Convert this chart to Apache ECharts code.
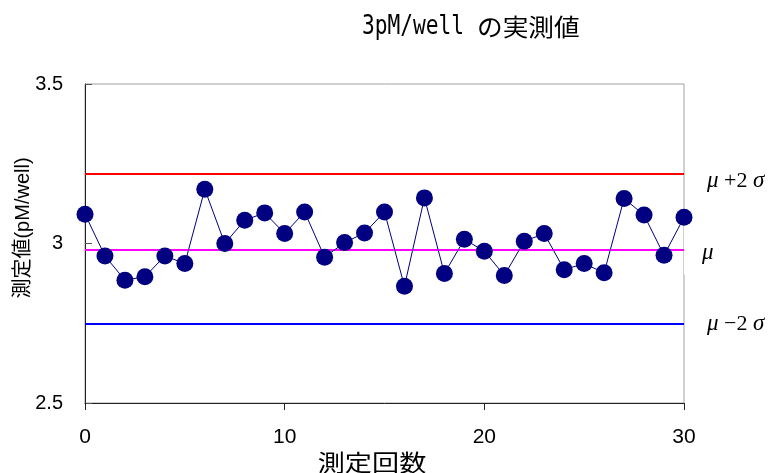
<!DOCTYPE html>
<html>
<head>
<meta charset="utf-8">
<script src="https://cdn.jsdelivr.net/npm/echarts@6/dist/echarts.min.js"></script>
<style>html,body{margin:0;padding:0;background:#fff}#c{width:772px;height:473px}</style>
</head>
<body>
<div id="c"></div>
<script>
// Data
var runs = [0,1,2,3,4,5,6,7,8,9,10,11,12,13,14,15,16,17,18,19,20,21,22,23,24,25,26,27,28,29,30];
var measured = [3.092,2.961,2.885,2.896,2.961,2.937,3.170,3.000,3.073,3.096,3.031,3.099,2.957,3.003,3.033,3.099,
  2.866,3.143,2.906,3.013,2.976,2.900,3.007,3.031,2.918,2.937,2.908,3.141,3.089,2.963,3.082];
var meanValue = [2.985];
var upperLimit = [3.217];
var lowerLimit = [2.753];
var xTicks = [0, 10, 20, 30];
var yTicks = [2.5, 3, 3.5];
var titleParts = ['3pM/well', 'の実測値'];

var chart = echarts.init(document.getElementById('c'), null, {renderer: 'canvas'});
var pts = runs.map(function (r, i) { return [r, measured[i]]; });

var greek = {fontFamily: 'Liberation Serif', fontStyle: 'italic', fontSize: 23, color: '#000'};
var plain = {fontFamily: 'Liberation Serif', fontSize: 22, color: '#000'};

chart.setOption({
  animation: false,
  backgroundColor: '#fff',
  grid: {left: 85, right: 88, top: 84, bottom: 70, show: true, borderColor: '#a0a0a0', borderWidth: 1,
    backgroundColor: 'transparent', containLabel: false, outerBoundsMode: 'none'},
  xAxis: {
    type: 'value', min: xTicks[0], max: xTicks[xTicks.length - 1], interval: 10,
    axisLine: {lineStyle: {color: '#222', width: 1}},
    axisTick: {show: true, inside: false, length: 7, lineStyle: {color: '#222'}},
    axisLabel: {fontFamily: 'Liberation Sans', fontSize: 21, color: '#000', margin: 24},
    splitLine: {show: false}
  },
  yAxis: {
    type: 'value', min: yTicks[0], max: yTicks[yTicks.length - 1], interval: 0.5,
    axisLine: {show: true, lineStyle: {color: '#222', width: 1}},
    axisTick: {show: true, inside: true, length: 7, lineStyle: {color: '#555'}},
    axisLabel: {fontFamily: 'Liberation Sans', fontSize: 20, color: '#000', margin: 22},
    splitLine: {show: false}
  },
  graphic: [{
    type: 'text', x: 362, y: 27, scaleX: 0.815,
    style: {text: titleParts[0], font: '26px "DejaVu Sans Mono"', fill: '#000', align: 'left', verticalAlign: 'middle'}
  }, {
    type: 'text', x: 477, y: 27, scaleX: 1.07,
    style: {text: titleParts[1], font: '24px "Noto Sans CJK JP"', fill: '#000', align: 'left', verticalAlign: 'middle'}
  }, {
    type: 'text', x: 372, y: 462, scaleX: 1.18,
    style: {text: '測定回数', font: '23px "Noto Sans CJK JP"', fill: '#000', align: 'center', verticalAlign: 'middle'}
  }, {
    type: 'text', x: 23, y: 228, rotation: Math.PI / 2,
    style: {text: '測定値(pM/well)', font: '20px "Liberation Sans", "Noto Sans CJK JP"', fill: '#000', align: 'center', verticalAlign: 'middle'}
  }],
  series: [{
    type: 'line',
    data: pts,
    symbol: 'circle', symbolSize: 17,
    itemStyle: {color: '#000080'},
    lineStyle: {color: '#000080', width: 1},
    z: 5,
    markLine: {
      silent: true, symbol: 'none', animation: false,
      data: [
        {yAxis: upperLimit[0], lineStyle: {color: '#ff0000', width: 2, type: 'solid'},
          label: {show: true, position: 'end', distance: 23, offset: [0, 8],
            formatter: '{g|μ}{p| +2 }{g|σ}', rich: {g: greek, p: plain}}},
        {yAxis: meanValue[0], lineStyle: {color: '#ff00ff', width: 2, type: 'solid'},
          label: {show: true, position: 'end', distance: 0, backgroundColor: '#fff',
            padding: [16, 30, 10, 18],
            formatter: '{g|μ}', rich: {g: greek}}},
        {yAxis: lowerLimit[0], lineStyle: {color: '#0000ff', width: 2, type: 'solid'},
          label: {show: true, position: 'end', distance: 23, offset: [0, 1],
            formatter: '{g|μ}{p| −2 }{g|σ}', rich: {g: greek, p: plain}}}
      ]
    }
  }]
});
</script>
</body>
</html>
